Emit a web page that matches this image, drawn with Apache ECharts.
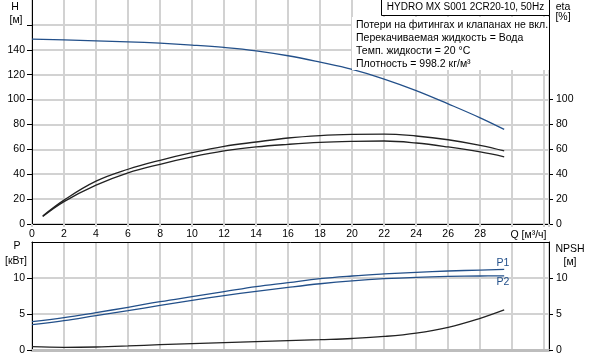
<!DOCTYPE html>
<html>
<head>
<meta charset="utf-8">
<script src="https://cdn.jsdelivr.net/npm/echarts@6/dist/echarts.min.js"></script>
<style>
html,body{margin:0;padding:0;background:#fff;}
#c{width:590px;height:359px;}
</style>
</head>
<body>
<div id="c"></div>
<script>
// ---- data ----
const qMain = [0, 2, 4, 6, 8, 10, 12, 14, 16, 18, 20, 22, 24, 26, 28, 29.5];
const headH = [148.5, 148, 147.2, 146.4, 145.3, 143.8, 141.9, 139.2, 135.2, 130, 124.2, 116.5, 107.2, 96.5, 85.3, 76];
const qEta = [0.67, 2, 4, 6, 8, 10, 12, 14, 16, 18, 20, 22, 24, 26, 28, 29.5];
const etaUpper = [6.4, 19.2, 34.4, 44, 51.2, 57.3, 62.4, 65.9, 69.1, 71, 72, 72.3, 70.7, 67.7, 63.2, 58.7];
const etaLower = [6.0, 18.0, 31.2, 41.1, 48, 53.9, 58.7, 61.9, 64, 65.6, 66.4, 66.7, 65.1, 61.9, 57.9, 54];
const powerP1 = [3.94, 4.49, 5.19, 5.93, 6.71, 7.41, 8.1, 8.8, 9.35, 9.91, 10.28, 10.56, 10.79, 10.97, 11.1, 11.2];
const powerP2 = [3.52, 4.07, 4.77, 5.46, 6.2, 6.9, 7.55, 8.15, 8.7, 9.2, 9.6, 9.9, 10.1, 10.22, 10.28, 10.3];
const npsh = [0.46, 0.37, 0.42, 0.56, 0.74, 0.88, 1.02, 1.16, 1.3, 1.44, 1.6, 1.88, 2.35, 3.15, 4.4, 5.56];
const xTickLabels = [0, 2, 4, 6, 8, 10, 12, 14, 16, 18, 20, 22, 24, 26, 28];
const hTicks = [0, 20, 40, 60, 80, 100, 120, 140, 160];
const hLabels = [0, 20, 40, 60, 80, 100, 120, 140];
const etaLabels = [0, 20, 40, 60, 80, 100];
const pLabels = [0, 5, 10];
const title = 'HYDRO MX S001 2CR20-10, 50Hz';
const notes = ['Потери на фитингах и клапанах не вкл.', 'Перекачиваемая жидкость = Вода', 'Темп. жидкости = 20 °C', 'Плотность = 998.2 кг/м³'];

const zip = (xs, ys) => xs.map((x, i) => [x, ys[i]]);
const FONT = "'Liberation Sans', Arial, sans-serif";
const GRID = '#d2d2d2';
const NAVY = '#23508a';
const DARK = '#222';
const lbl = { color: '#000', fontSize: 10.5, fontFamily: FONT };

const chart = echarts.init(document.getElementById('c'), null, { renderer: 'canvas' });

function lineSeries(name, xi, yi, data, color) {
  return {
    name, type: 'line', xAxisIndex: xi, yAxisIndex: yi, data,
    smooth: 0.4, showSymbol: false, symbol: 'none',
    lineStyle: { color, width: 1.3 }, silent: true, animation: false
  };
}
function txt(t, x, y, size, align, color) {
  return { type: 'text', x, y, z: 11, style: { text: t, fill: color || '#000', font: size + 'px ' + FONT, textAlign: align || 'center', textVerticalAlign: 'middle' } };
}

const option = {
  animation: false,
  backgroundColor: '#fff',
  grid: [
    { left: 32, right: 41, top: -1, height: 225 },
    { left: 32, right: 41, top: 242, height: 108 }
  ],
  xAxis: [
    {
      gridIndex: 0, type: 'value', min: 0, max: 32.3, interval: 2, position: 'bottom',
      axisLine: { show: true, onZero: false, lineStyle: { color: '#000', width: 1 } },
      axisTick: { show: true, length: 3, lineStyle: { color: GRID, width: 2 } },
      axisLabel: Object.assign({ customValues: xTickLabels, margin: 5 }, lbl),
      splitLine: { show: true, lineStyle: { color: GRID, width: 2 } }
    },
    {
      gridIndex: 1, type: 'value', min: 0, max: 32.3, interval: 2, position: 'bottom',
      axisLine: { show: true, onZero: false, lineStyle: { color: '#bdbdbd', width: 3 } },
      axisTick: { show: false }, axisLabel: { show: false },
      splitLine: { show: true, lineStyle: { color: GRID, width: 2 } }
    },
    {
      gridIndex: 1, type: 'value', min: 0, max: 32.3, interval: 2, position: 'top',
      axisLine: { show: true, onZero: false, lineStyle: { color: '#000', width: 1 } },
      axisTick: { show: false }, axisLabel: { show: false }, splitLine: { show: false }
    }
  ],
  yAxis: [
    {
      gridIndex: 0, type: 'value', min: 0, max: 180, interval: 20, position: 'left',
      axisLine: { show: true, onZero: false, lineStyle: { color: '#000' } },
      axisTick: { show: true, length: 5, customValues: hTicks, lineStyle: { color: '#000' } },
      axisLabel: Object.assign({ customValues: hLabels, margin: 7 }, lbl),
      splitLine: { show: true, lineStyle: { color: GRID, width: 2 } }
    },
    {
      gridIndex: 0, type: 'value', min: 0, max: 180, interval: 20, position: 'right',
      axisLine: { show: true, onZero: false, lineStyle: { color: '#000' } },
      axisTick: { show: true, length: 4, customValues: etaLabels, lineStyle: { color: '#000' } },
      axisLabel: Object.assign({ customValues: etaLabels, margin: 7 }, lbl),
      splitLine: { show: false }
    },
    {
      gridIndex: 1, type: 'value', min: 0, max: 15, interval: 5, position: 'left',
      axisLine: { show: true, onZero: false, lineStyle: { color: '#000' } },
      axisTick: { show: true, length: 5, customValues: pLabels, lineStyle: { color: '#000' } },
      axisLabel: Object.assign({ customValues: pLabels, margin: 7 }, lbl),
      splitLine: { show: true, lineStyle: { color: GRID, width: 2 } }
    },
    {
      gridIndex: 1, type: 'value', min: 0, max: 15, interval: 5, position: 'right',
      axisLine: { show: true, onZero: false, lineStyle: { color: '#000' } },
      axisTick: { show: true, length: 4, customValues: pLabels, lineStyle: { color: '#000' } },
      axisLabel: Object.assign({ customValues: pLabels, margin: 7 }, lbl),
      splitLine: { show: false }
    }
  ],
  series: [
    lineSeries('H', 0, 0, zip(qMain, headH), NAVY),
    lineSeries('eta1', 0, 1, zip(qEta, etaUpper), DARK),
    lineSeries('eta2', 0, 1, zip(qEta, etaLower), DARK),
    lineSeries('P1', 1, 2, zip(qMain, powerP1), NAVY),
    lineSeries('P2', 1, 2, zip(qMain, powerP2), NAVY),
    lineSeries('NPSH', 1, 3, zip(qMain, npsh), DARK)
  ],
  graphic: [
    { type: 'rect', shape: { x: 352, y: 17, width: 197, height: 53 }, style: { fill: '#fff' }, z: 10 },
    { type: 'rect', shape: { x: 381.5, y: -1, width: 168, height: 16.5 }, style: { fill: '#fff', stroke: '#000', lineWidth: 1 }, z: 10 },
    txt(title, 465.5, 7.5, 10),
    ...notes.map((t, i) => txt(t, 356, 25.5 + i * 13, 10.5, 'left')),
    txt('H', 15, 7, 10.5),
    txt('[м]', 16, 20, 10.5),
    txt('eta', 563, 7, 10.5),
    txt('[%]', 563, 17.5, 10.5),
    txt('P', 17, 246.5, 10.5),
    txt('[кВт]', 16, 261.5, 10.5),
    txt('NPSH', 570, 249, 10.5),
    txt('[м]', 570, 262, 10.5),
    txt('Q [м³/ч]', 528.5, 235, 10.5),
    txt('P1', 503, 263.5, 10.5, 'center', NAVY),
    txt('P2', 503, 282.5, 10.5, 'center', NAVY)
  ]
};
chart.setOption(option);
</script>
</body>
</html>
